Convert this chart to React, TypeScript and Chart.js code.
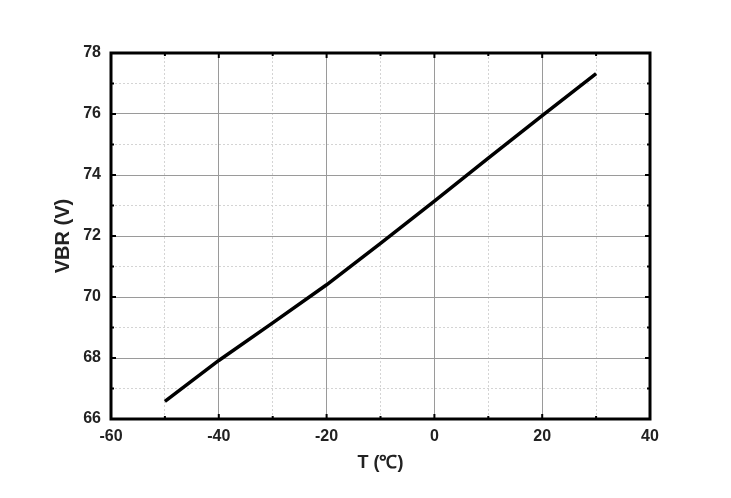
import React, { useEffect, useRef } from "react";
import { Chart, registerables } from "chart.js";

Chart.register(...registerables);

const temperatures = [-50, -40, -30, -20, -10, 0, 10, 20, 30];
const vbrValues = [66.58, 67.92, 69.15, 70.4, 71.76, 73.14, 74.55, 75.95, 77.32];
const xTickLabels = [-60, -40, -20, 0, 20, 40];
const yTickLabels = [66, 68, 70, 72, 74, 76, 78];

const FONT = "'Liberation Sans', Arial, sans-serif";

const framePlugin = {
  id: "frameAndTicks",
  afterDraw(chart: any) {
    const { ctx, chartArea, scales } = chart;
    const { left, right, top, bottom } = chartArea;
    ctx.save();
    ctx.strokeStyle = "#000";
    ctx.lineWidth = 2;
    const xs = scales.x;
    const ys = scales.y;
    for (let v = -60; v <= 40; v += 10) {
      const px = xs.getPixelForValue(v);
      const len = xTickLabels.includes(v) ? 5 : 3;
      ctx.beginPath();
      ctx.moveTo(px, bottom);
      ctx.lineTo(px, bottom - len);
      ctx.moveTo(px, top);
      ctx.lineTo(px, top + len);
      ctx.stroke();
    }
    for (let v = 66; v <= 78; v += 1) {
      const py = ys.getPixelForValue(v);
      const len = yTickLabels.includes(v) ? 5 : 3;
      ctx.beginPath();
      ctx.moveTo(left, py);
      ctx.lineTo(left + len, py);
      ctx.moveTo(right, py);
      ctx.lineTo(right - len, py);
      ctx.stroke();
    }
    ctx.lineWidth = 3;
    ctx.strokeRect(left, top, right - left, bottom - top);
    ctx.restore();
  },
};

export default function App() {
  const canvasRef = useRef<HTMLCanvasElement | null>(null);

  useEffect(() => {
    if (!canvasRef.current) return;
    const chart = new Chart(canvasRef.current, {
      type: "line",
      data: {
        labels: temperatures,
        datasets: [
          {
            data: temperatures.map((t, i) => ({ x: t, y: vbrValues[i] })),
            borderColor: "#000",
            borderWidth: 3.5,
            pointRadius: 0,
            tension: 0,
            fill: false,
          },
        ],
      },
      options: {
        animation: false,
        responsive: true,
        maintainAspectRatio: false,
        layout: { padding: { top: 53, right: 81, left: 0, bottom: 0 } },
        plugins: { legend: { display: false }, tooltip: { enabled: false } },
        scales: {
          x: {
            type: "linear",
            min: -60,
            max: 40,
            afterFit: (s: any) => {
              s.height = 79;
            },
            ticks: {
              stepSize: 10,
              autoSkip: false,
              maxRotation: 0,
              padding: 8,
              color: "#222",
              font: { family: FONT, size: 16, weight: "bold" },
              callback: (v: any) => (xTickLabels.includes(Number(v)) ? String(v) : ""),
            },
            grid: {
              drawTicks: false,
              color: (c: any) =>
                xTickLabels.includes(c.tick?.value) ? "#9a9a9a" : "#d4d4d4",
              lineWidth: 1,
            },
            border: {
              display: false,
              dash: (c: any) => (xTickLabels.includes(c.tick?.value) ? [] : [2, 2]),
            },
            title: {
              display: true,
              text: "T (℃)",
              color: "#222",
              font: { family: FONT, size: 18, weight: "bold" },
              padding: { top: 0, bottom: 24 },
            },
          },
          y: {
            type: "linear",
            min: 66,
            max: 78,
            afterFit: (s: any) => {
              s.width = 111;
            },
            ticks: {
              stepSize: 1,
              autoSkip: false,
              padding: 10,
              color: "#222",
              font: { family: FONT, size: 16, weight: "bold" },
              callback: (v: any) => (yTickLabels.includes(Number(v)) ? String(v) : ""),
            },
            grid: {
              drawTicks: false,
              color: (c: any) =>
                yTickLabels.includes(c.tick?.value) ? "#9a9a9a" : "#d4d4d4",
              lineWidth: 1,
            },
            border: {
              display: false,
              dash: (c: any) => (yTickLabels.includes(c.tick?.value) ? [] : [2, 2]),
            },
            title: {
              display: true,
              text: "VBR (V)",
              color: "#222",
              font: { family: FONT, size: 20, weight: "bold" },
              padding: { top: 51, bottom: 0 },
            },
          },
        },
      },
      plugins: [framePlugin],
    } as any);
    return () => chart.destroy();
  }, []);

  return (
    <div
      style={{
        position: "fixed",
        left: 0,
        top: 0,
        width: 731,
        height: 498,
        background: "#fff",
      }}
    >
      <canvas ref={canvasRef} />
    </div>
  );
}
